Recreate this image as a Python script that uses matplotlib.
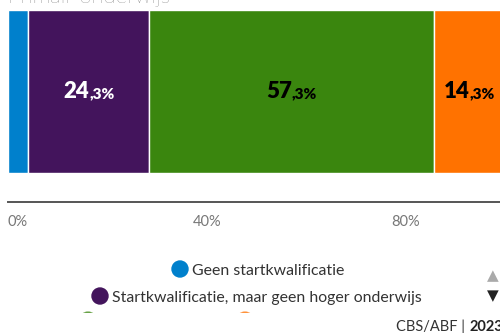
import matplotlib.pyplot as plt
from matplotlib.patches import Circle, Rectangle
from matplotlib.offsetbox import TextArea, HPacker, AnnotationBbox

plt.rcParams['font.family'] = ['Lato', 'DejaVu Sans']

# Primair onderwijs: verdeling naar opleidingsniveau
categories = ['Geen startkwalificatie',
              'Startkwalificatie, maar geen hoger onderwijs',
              'Hoger onderwijs',
              'Onbekend']
values = [4.1, 24.3, 57.3, 14.3]
labels = [None, ('24', ',3%'), ('57', ',3%'), ('14', ',3%')]
colors = ['#0080cc', '#43145c', '#3a860e', '#ff7200']
label_colors = ['white', 'white', 'black', 'black']
ticks = [0, 40, 80]
tick_labels = ['0%', '40%', '80%']

fig = plt.figure(figsize=(5, 3.33), dpi=100)
W, H = 500, 333

# bar axes: left at x=8, bottom spine at y=202, top at y=10
ax = fig.add_axes([8 / W, 1 - 202 / H, 497 / W, 192 / H])
ax.set_xlim(0, 100)
ax.set_ylim(0, 1)

left = 0
for v, c, lab, lc in zip(values, colors, labels, label_colors):
    ax.barh(0.151, v, height=0.849, left=left, align='edge', color=c,
            edgecolor='white', linewidth=1)
    if lab:
        box = HPacker(children=[
            TextArea(lab[0], textprops=dict(fontsize=16, fontweight='heavy', color=lc)),
            TextArea(lab[1], textprops=dict(fontsize=11, fontweight='heavy', color=lc)),
        ], align='baseline', pad=0, sep=0)
        ab = AnnotationBbox(box, (left + v / 2, 0.575), frameon=False,
                            box_alignment=(0.5, 0.5), annotation_clip=False)
        ax.add_artist(ab)
    left += v

for s in ['top', 'right', 'left']:
    ax.spines[s].set_visible(False)
ax.spines['bottom'].set_color('#555555')
ax.spines['bottom'].set_linewidth(1.4)
ax.set_yticks([])
ax.set_xticks(ticks)
ax.set_xticklabels(tick_labels, color='#777777', fontsize=10.5)
ax.tick_params(axis='x', length=0, pad=9)
ax.get_xticklabels()[0].set_horizontalalignment('left')

# overlay in pixel coordinates for title, legend and source
ov = fig.add_axes([0, 0, 1, 1])
ov.set_xlim(0, W)
ov.set_ylim(H, 0)
ov.axis('off')
ov.patch.set_alpha(0)

ov.text(8, 3, 'Primair onderwijs', fontsize=16, color='#444444',
        fontweight='light', va='baseline')

ov.add_patch(Circle((180, 269), 8, color=colors[0]))
ov.text(192, 275, categories[0], fontsize=11.4, color='#333333', va='baseline')
ov.add_patch(Circle((100, 296), 8, color=colors[1]))
ov.text(112, 302, categories[1], fontsize=11.4, color='#333333', va='baseline')

# third legend row, cut off below y=313
clip = Rectangle((0, 0), W, 313, transform=ov.transData)
for x, c in [(88, colors[2]), (245, colors[3])]:
    circ = Circle((x, 320), 8, color=c, alpha=0.6)
    ov.add_patch(circ)
    circ.set_clip_path(clip)

ov.text(493, 276, '▲', fontsize=11, color='#aaaaaa', ha='center', va='center',
        family='DejaVu Sans')
ov.text(493, 296, '▼', fontsize=11, color='#222222', ha='center', va='center',
        family='DejaVu Sans')

ov.text(396, 331, 'CBS/ABF |', fontsize=10.5, color='#333333', va='baseline')
ov.text(469, 331, '2023', fontsize=10.5, color='#222222', fontweight='bold',
        va='baseline')

fig.savefig('out.png', dpi=100)
